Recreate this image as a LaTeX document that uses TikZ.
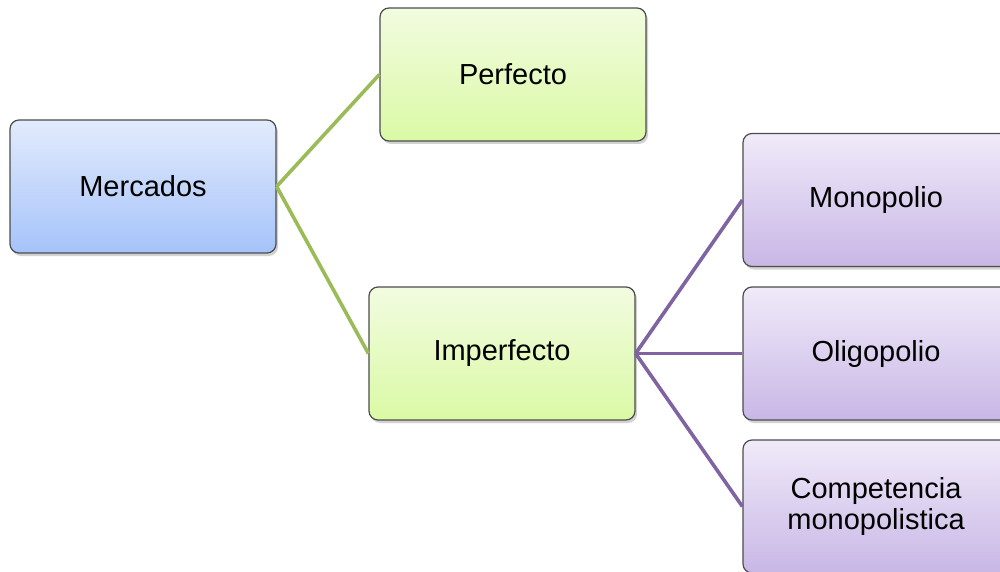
\documentclass[tikz,border=0pt]{standalone}
\usepackage{fontspec}
\setmainfont{Liberation Sans}
\usetikzlibrary{shadows}

\definecolor{lineGreen}{RGB}{155,187,89}
\definecolor{linePurple}{RGB}{128,100,162}
\definecolor{blueTop}{RGB}{226,235,252}
\definecolor{blueBot}{RGB}{165,195,250}
\definecolor{greenTop}{RGB}{242,251,224}
\definecolor{greenBot}{RGB}{218,250,165}
\definecolor{purpleTop}{RGB}{240,234,249}
\definecolor{purpleBot}{RGB}{200,183,230}

\tikzset{
  box/.style={draw=black!70, line width=0.6pt, rounded corners=4.5pt,
    minimum width=133pt, minimum height=66.5pt, align=center,
    font=\fontsize{14.5}{15.5}\selectfont,
    drop shadow={shadow xshift=1pt, shadow yshift=-1.5pt, opacity=0.35}},
  bluebox/.style={box, top color=blueTop, bottom color=blueBot},
  greenbox/.style={box, top color=greenTop, bottom color=greenBot},
  purplebox/.style={box, top color=purpleTop, bottom color=purpleBot},
  greenline/.style={lineGreen, line width=1.8pt},
  purpleline/.style={linePurple, line width=1.8pt}
}

\begin{document}
\begin{tikzpicture}[x=0.5pt, y=-0.5pt]

% Page frame, in pixels of the reference
\clip (0,0) rectangle (1000,572);
\fill[white] (0,0) rectangle (1000,572);

% Root
\node[bluebox] (mercados) at (143,186.5) {Mercados};

% First level
\node[greenbox] (perfecto) at (513,74.5) {Perfecto};
\node[greenbox] (imperfecto) at (502,353.5) {Imperfecto};

% Second level
\node[purplebox] (monopolio) at (876,200) {Monopolio};
\node[purplebox] (oligopolio) at (876,353.5) {Oligopolio};
\node[purplebox] (competencia) at (876,506.5) {Competencia\\monopolistica};

% Connectors
\draw[greenline] (mercados.east) -- (perfecto.west);
\draw[greenline] (mercados.east) -- (imperfecto.west);
\draw[purpleline] (imperfecto.east) -- (monopolio.west);
\draw[purpleline] (imperfecto.east) -- (oligopolio.west);
\draw[purpleline] (imperfecto.east) -- (competencia.west);

\end{tikzpicture}
\end{document}
